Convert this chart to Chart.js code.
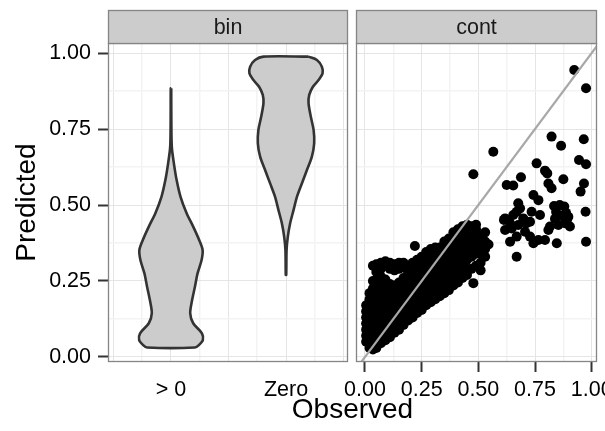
<!DOCTYPE html>
<html>
<head>
<meta charset="utf-8">
<script src="https://cdn.jsdelivr.net/npm/chart.js@4.4.1/dist/chart.umd.min.js"></script>
<style>
  html, body { margin: 0; padding: 0; background: #fff; }
  #wrap { width: 605px; height: 431px; }
</style>
</head>
<body>
<div id="wrap"><canvas id="chart" width="605" height="431"></canvas></div>
<script>
// facet strips and axis text
var facetLabels = ['bin', 'cont'];
var binCats = ['> 0', 'Zero'];
var binPos = [1, 2];

// breaks (major + minor grid)
var yGrid = [0, 0.125, 0.25, 0.375, 0.5, 0.625, 0.75, 0.875, 1];
var binGrid = [0.5, 0.75, 1, 1.25, 1.5, 1.75, 2, 2.25, 2.5];
var contGrid = [0, 0.125, 0.25, 0.375, 0.5, 0.625, 0.75, 0.875, 1];

// violin outlines: predicted value and half width (x units)
var gtY  = [0.884, 0.780, 0.692, 0.637, 0.582, 0.527, 0.473, 0.429, 0.385, 0.352, 0.319, 0.275, 0.231, 0.188, 0.144, 0.111, 0.078, 0.056, 0.039, 0.031];
var gtHW = [0.002, 0.003, 0.007, 0.025, 0.049, 0.083, 0.136, 0.193, 0.245, 0.275, 0.266, 0.231, 0.208, 0.184, 0.167, 0.193, 0.269, 0.277, 0.242, 0.208];
var zeroY  = [0.988, 0.977, 0.955, 0.933, 0.911, 0.889, 0.862, 0.835, 0.790, 0.747, 0.703, 0.659, 0.615, 0.571, 0.527, 0.484, 0.440, 0.396, 0.352, 0.270];
var zeroHW = [0.196, 0.269, 0.312, 0.318, 0.283, 0.234, 0.202, 0.196, 0.216, 0.240, 0.245, 0.225, 0.182, 0.138, 0.095, 0.066, 0.036, 0.016, 0.005, 0.002];

// continuous panel: dense cluster, listed by observed value
var contCols = [
    [0.005, [0.05, 0.07, 0.09, 0.11, 0.13, 0.15, 0.17]],
    [0.02,  [0.03, 0.05, 0.07, 0.09, 0.11, 0.13, 0.15, 0.17, 0.19, 0.21]],
    [0.035, [0.025, 0.045, 0.065, 0.085, 0.105, 0.125, 0.145, 0.165, 0.185, 0.205, 0.225, 0.25, 0.30]],
    [0.05,  [0.03, 0.05, 0.07, 0.09, 0.11, 0.13, 0.15, 0.17, 0.19, 0.21, 0.23, 0.255, 0.28, 0.305]],
    [0.07,  [0.045, 0.065, 0.085, 0.105, 0.125, 0.145, 0.165, 0.185, 0.205, 0.225, 0.245, 0.265, 0.29, 0.31]],
    [0.09,  [0.055, 0.075, 0.095, 0.115, 0.135, 0.155, 0.175, 0.195, 0.215, 0.235, 0.255, 0.30, 0.315]],
    [0.11,  [0.065, 0.085, 0.105, 0.125, 0.145, 0.165, 0.185, 0.205, 0.225, 0.24, 0.29, 0.31]],
    [0.13,  [0.08, 0.10, 0.12, 0.14, 0.16, 0.18, 0.20, 0.22, 0.235, 0.285, 0.305]],
    [0.15,  [0.09, 0.11, 0.13, 0.15, 0.17, 0.19, 0.21, 0.23, 0.245, 0.29, 0.31]],
    [0.17,  [0.105, 0.125, 0.145, 0.165, 0.185, 0.205, 0.225, 0.245, 0.26, 0.295, 0.31]],
    [0.19,  [0.12, 0.14, 0.16, 0.18, 0.20, 0.22, 0.24, 0.26, 0.28, 0.30]],
    [0.21,  [0.13, 0.15, 0.17, 0.19, 0.21, 0.23, 0.25, 0.27, 0.29, 0.31]],
    [0.23,  [0.145, 0.165, 0.185, 0.205, 0.225, 0.245, 0.265, 0.285, 0.305, 0.32]],
    [0.25,  [0.155, 0.175, 0.195, 0.215, 0.235, 0.255, 0.275, 0.295, 0.315, 0.33]],
    [0.27,  [0.17, 0.19, 0.21, 0.23, 0.25, 0.27, 0.29, 0.31, 0.33, 0.345]],
    [0.29,  [0.18, 0.20, 0.22, 0.24, 0.26, 0.28, 0.30, 0.32, 0.34, 0.355]],
    [0.31,  [0.19, 0.21, 0.23, 0.25, 0.27, 0.29, 0.31, 0.33, 0.35, 0.36]],
    [0.33,  [0.20, 0.22, 0.24, 0.26, 0.28, 0.30, 0.32, 0.34, 0.36]],
    [0.35,  [0.21, 0.23, 0.25, 0.27, 0.29, 0.31, 0.33, 0.35, 0.37, 0.38]],
    [0.37,  [0.22, 0.24, 0.26, 0.28, 0.30, 0.32, 0.34, 0.36, 0.38, 0.39]],
    [0.39,  [0.235, 0.255, 0.275, 0.295, 0.315, 0.335, 0.355, 0.375, 0.395, 0.41]],
    [0.41,  [0.245, 0.265, 0.285, 0.305, 0.325, 0.345, 0.365, 0.385, 0.405, 0.42]],
    [0.43,  [0.26, 0.28, 0.31, 0.33, 0.35, 0.37, 0.39, 0.41, 0.43]],
    [0.45,  [0.27, 0.29, 0.32, 0.34, 0.36, 0.38, 0.40, 0.42, 0.435]],
    [0.47,  [0.29, 0.33, 0.35, 0.37, 0.39, 0.41, 0.43]],
    [0.49,  [0.30, 0.34, 0.36, 0.38, 0.40, 0.42, 0.435]],
    [0.51,  [0.285, 0.31, 0.34, 0.36, 0.38, 0.40]],
    [0.53,  [0.33, 0.355, 0.38, 0.41]],
    [0.545, [0.37]]
];

// continuous panel: scattered points [observed, predicted]
var contPoints = [
    [0.22, 0.365], [0.478, 0.243], [0.478, 0.601], [0.566, 0.675],
    [0.923, 0.944], [0.975, 0.884], [0.823, 0.725], [0.865, 0.695], [0.965, 0.716],
    [0.944, 0.648], [0.975, 0.634], [0.757, 0.637], [0.794, 0.613], [0.804, 0.604],
    [0.688, 0.591], [0.625, 0.566], [0.654, 0.564], [0.809, 0.571], [0.823, 0.555],
    [0.875, 0.585], [0.966, 0.571], [0.951, 0.544], [0.743, 0.533], [0.765, 0.516],
    [0.676, 0.506], [0.684, 0.489], [0.834, 0.497], [0.859, 0.500], [0.879, 0.495],
    [0.843, 0.477], [0.887, 0.474], [0.868, 0.464], [0.973, 0.478], [0.618, 0.456],
    [0.654, 0.467], [0.698, 0.456], [0.735, 0.478], [0.772, 0.467], [0.728, 0.445],
    [0.816, 0.429], [0.853, 0.434], [0.882, 0.440], [0.618, 0.418], [0.647, 0.423],
    [0.676, 0.434], [0.706, 0.412], [0.640, 0.379], [0.669, 0.396], [0.728, 0.396],
    [0.743, 0.374], [0.765, 0.385], [0.794, 0.385], [0.846, 0.374], [0.975, 0.379],
    [0.669, 0.330], [0.613, 0.451], [0.897, 0.461], [0.904, 0.429], [0.809, 0.418],
    [0.669, 0.478], [0.640, 0.440], [0.713, 0.440], [0.890, 0.448], [0.838, 0.455]
];

// identity reference line (observed == predicted)
var refLine = [-0.1, 1.1];

var GAP = 8;
var STRIP_H = 33;

function violinOutline(center, ys, hw) {
    var right = ys.map(function (y, i) { return { x: center + hw[i], y: y }; });
    var left = ys.map(function (y, i) { return { x: center - hw[i], y: y }; }).reverse();
    return right.concat(left, [right[0]]);
}

var contData = contPoints.map(function (p) { return { x: p[0], y: p[1] }; });
contCols.forEach(function (col) {
    col[1].forEach(function (y) { contData.push({ x: col[0], y: y }); });
});

function isMajor(v) { return Math.abs(v * 4 - Math.round(v * 4)) < 1e-6; }
function isMajorBin(v) { return Math.abs(v * 2 - Math.round(v * 2)) < 1e-6; }

function panels(chart) {
    var a = chart.chartArea;
    return [
        { left: a.left, right: chart.scales.xb.right - GAP / 2, top: a.top, bottom: a.bottom },
        { left: chart.scales.xc.left + GAP / 2, right: a.right, top: a.top, bottom: a.bottom }
    ];
}

var facetPlugin = {
    id: 'facets',
    beforeDatasetsDraw: function (chart) {
        var p = panels(chart), ctx = chart.ctx;
        ctx.save();
        ctx.fillStyle = '#ffffff';
        ctx.fillRect(p[0].right, p[0].top - 1, p[1].left - p[0].right, p[0].bottom - p[0].top + 2);
        ctx.restore();
    },
    afterDraw: function (chart) {
        var ctx = chart.ctx;
        ctx.save();
        panels(chart).forEach(function (p, i) {
            var l = Math.round(p.left) + 0.5, r = Math.round(p.right) - 0.5;
            var t = Math.round(p.top) + 0.5, b = Math.round(p.bottom) - 0.5;
            ctx.lineWidth = 1.3;
            ctx.strokeStyle = '#858585';
            ctx.strokeRect(l, t, r - l, b - t);
            ctx.fillStyle = '#cccccc';
            ctx.fillRect(l, t - STRIP_H, r - l, STRIP_H);
            ctx.strokeRect(l, t - STRIP_H, r - l, STRIP_H);
            ctx.fillStyle = '#1a1a1a';
            ctx.font = '21.5px "Liberation Sans", Arial, sans-serif';
            ctx.textAlign = 'center';
            ctx.textBaseline = 'middle';
            ctx.fillText(facetLabels[i], (l + r) / 2, t - STRIP_H / 2 + 1);
        });
        ctx.restore();
    }
};

Chart.defaults.font.family = '"Liberation Sans", Arial, Helvetica, sans-serif';
Chart.defaults.color = '#000';

function fixX(s) { s.height = 38; s.paddingLeft = 0; s.paddingRight = 0; }

new Chart(document.getElementById('chart').getContext('2d'), {
    type: 'scatter',
    data: {
        datasets: [{
            type: 'line', data: refLine.map(function (v) { return { x: v, y: v }; }),
            xAxisID: 'xc', yAxisID: 'y', borderColor: '#a8a8a8', borderWidth: 2.2,
            pointRadius: 0, fill: false, order: 0
        }, {
            type: 'scatter', data: contData, xAxisID: 'xc', yAxisID: 'y',
            pointRadius: 5, pointHoverRadius: 5, backgroundColor: '#000', borderWidth: 0, order: 1
        }, {
            type: 'line', data: violinOutline(binPos[0], gtY, gtHW), xAxisID: 'xb', yAxisID: 'y',
            fill: 'shape', backgroundColor: '#cccccc', borderColor: '#333333', borderWidth: 2.6,
            borderJoinStyle: 'round', pointRadius: 0, tension: 0.3, order: 2
        }, {
            type: 'line', data: violinOutline(binPos[1], zeroY, zeroHW), xAxisID: 'xb', yAxisID: 'y',
            fill: 'shape', backgroundColor: '#cccccc', borderColor: '#333333', borderWidth: 2.6,
            borderJoinStyle: 'round', pointRadius: 0, tension: 0.3, order: 2
        }]
    },
    options: {
        responsive: false,
        animation: false,
        events: [],
        layout: { padding: { top: 43, right: 8, bottom: 4.2, left: 0 } },
        plugins: {
            legend: { display: false },
            tooltip: { enabled: false },
            title: {
                display: true, text: 'Observed', position: 'bottom', fullSize: false,
                color: '#000', font: { size: 28, weight: 'normal' }, padding: { top: -6.8, bottom: 0 }
            }
        },
        scales: {
            xb: {
                type: 'linear', axis: 'x', position: 'bottom', stack: 'facets', stackWeight: 244,
                min: 0.4522, max: 2.5739,
                afterBuildTicks: function (s) { s.ticks = binGrid.map(function (v) { return { value: v }; }); },
                afterFit: fixX,
                ticks: {
                    autoSkip: false, maxRotation: 0, padding: 5, font: { size: 21.5 },
                    callback: function (v) { var i = binPos.indexOf(v); return i >= 0 ? binCats[i] : ''; }
                },
                grid: {
                    tickLength: 10, tickColor: 'rgba(0,0,0,0)',
                    color: function (c) { return isMajorBin(c.tick.value) ? '#e5e5e5' : '#f3f3f3'; },
                    lineWidth: function (c) { return isMajorBin(c.tick.value) ? 1 : 1.5; }
                },
                border: { display: false }
            },
            xc: {
                type: 'linear', axis: 'x', position: 'bottom', stack: 'facets', stackWeight: 245,
                min: -0.0573, max: 1.0234,
                afterBuildTicks: function (s) { s.ticks = contGrid.map(function (v) { return { value: v }; }); },
                afterFit: fixX,
                ticks: {
                    autoSkip: false, maxRotation: 0, padding: 5, font: { size: 21.5 },
                    callback: function (v) { return isMajor(v) ? v.toFixed(2) : ''; }
                },
                grid: {
                    tickLength: 10, tickWidth: 2,
                    tickColor: function (c) { return isMajor(c.tick.value) ? '#333333' : 'rgba(0,0,0,0)'; },
                    color: function (c) { return isMajor(c.tick.value) ? '#e5e5e5' : '#f3f3f3'; },
                    lineWidth: function (c) { return isMajor(c.tick.value) ? 1 : 1.5; }
                },
                border: { display: false }
            },
            y: {
                type: 'linear', position: 'left',
                min: -0.01645, max: 1.0329,
                afterBuildTicks: function (s) { s.ticks = yGrid.map(function (v) { return { value: v }; }); },
                afterFit: function (s) { s.width = 108; s.paddingTop = 0; s.paddingBottom = 0; },
                title: {
                    display: true, text: 'Predicted', color: '#000',
                    font: { size: 28 }, padding: { top: 10.7, bottom: 0 }
                },
                ticks: {
                    autoSkip: false, padding: 7, font: { size: 21.5 },
                    callback: function (v) { return isMajor(v) ? v.toFixed(2) : ''; }
                },
                grid: {
                    tickLength: 10, tickWidth: 2,
                    tickColor: function (c) { return isMajor(c.tick.value) ? '#333333' : 'rgba(0,0,0,0)'; },
                    color: function (c) { return isMajor(c.tick.value) ? '#e5e5e5' : '#f3f3f3'; },
                    lineWidth: function (c) { return isMajor(c.tick.value) ? 1 : 1.5; }
                },
                border: { display: false }
            }
        }
    },
    plugins: [facetPlugin]
});
</script>
</body>
</html>
